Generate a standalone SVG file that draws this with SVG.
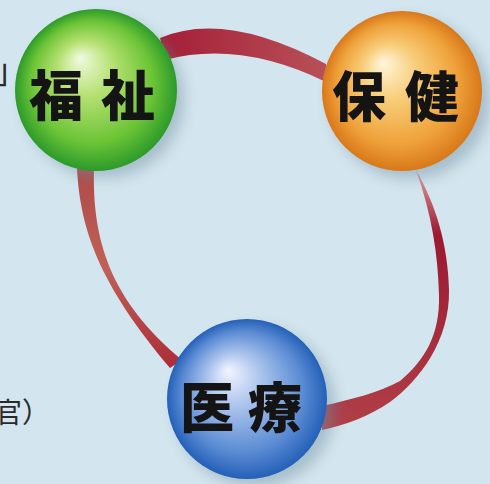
<svg xmlns="http://www.w3.org/2000/svg" width="490" height="484" viewBox="0 0 490 484">
<defs>
<style>
.lbl{font-family:"Noto Sans CJK JP","Noto Sans CJK SC",sans-serif;font-weight:900;font-size:54px;fill:#141414;text-anchor:middle;dominant-baseline:central}
.side{font-family:"Noto Sans CJK JP","Noto Sans CJK SC",sans-serif;font-weight:400;font-size:28px;fill:#2a2a2a}
.rib{stroke:none}
.shadow{fill:#6f8ea0;opacity:0.45;filter:url(#blur)}
</style>
<filter id="blur" x="-30%" y="-30%" width="160%" height="160%"><feGaussianBlur stdDeviation="7"/></filter>
<radialGradient id="gGreen" cx="0.5" cy="0.5" r="0.5" fx="0.4" fy="0.3">
<stop offset="0" stop-color="#f2fae0"/>
<stop offset="0.35" stop-color="#b4e070"/>
<stop offset="0.75" stop-color="#6cc436"/>
<stop offset="1" stop-color="#2c9a2a"/>
</radialGradient>
<radialGradient id="gOrange" cx="0.5" cy="0.5" r="0.5" fx="0.38" fy="0.32">
<stop offset="0" stop-color="#fff6dc"/>
<stop offset="0.35" stop-color="#f8cc78"/>
<stop offset="0.75" stop-color="#efa23a"/>
<stop offset="1" stop-color="#d8781a"/>
</radialGradient>
<radialGradient id="gBlue" cx="0.5" cy="0.5" r="0.5" fx="0.38" fy="0.32">
<stop offset="0" stop-color="#f2f5ff"/>
<stop offset="0.35" stop-color="#a8c2ec"/>
<stop offset="0.75" stop-color="#5c8cd4"/>
<stop offset="1" stop-color="#2460b8"/>
</radialGradient>
<linearGradient id="rTop" x1="0" y1="0" x2="1" y2="0">
<stop offset="0" stop-color="#a41e36"/>
<stop offset="1" stop-color="#b85058"/>
</linearGradient>
<linearGradient id="rRight" x1="0" y1="0" x2="0" y2="1">
<stop offset="0" stop-color="#e0a0a0"/>
<stop offset="0.25" stop-color="#9c1830"/>
<stop offset="1" stop-color="#b04048"/>
</linearGradient>
<linearGradient id="rLeft" x1="0" y1="0" x2="0" y2="1">
<stop offset="0" stop-color="#b04a48"/>
<stop offset="0.5" stop-color="#c06058"/>
<stop offset="1" stop-color="#ac2c38"/>
</linearGradient>
</defs>
<rect width="490" height="484" fill="#d3e5ee"/>
<g id="connectors">
<path class="rib" fill="url(#rTop)" d="M160,38 Q225,10 326,64 L326,82 Q240,40 165,60 Z"/>
<path class="rib" fill="url(#rRight)" d="M416,170 C436,205 448,245 449,290 C450,340 420,380 390,402 C370,416 345,425 322,430 L322,406 C350,400 380,392 400,381 C425,360 440,335 439,295 C438,255 432,215 416,170 Z"/>
<path class="rib" fill="url(#rLeft)" d="M77,168 C80,230 100,285 170,368 L182,360 C110,300 92,240 94,168 Z"/>
</g>
<g id="shadows">
<circle class="shadow" cx="104" cy="98" r="80"/>
<circle class="shadow" cx="410" cy="99" r="80"/>
<circle class="shadow" cx="255" cy="407" r="80"/>
</g>
<g id="fukushi">
<circle cx="96" cy="90" r="81" fill="url(#gGreen)"/>
<text class="lbl" x="56" y="92">福</text>
<text class="lbl" x="128" y="92">祉</text>
</g>
<g id="hoken">
<circle cx="402" cy="91" r="80" fill="url(#gOrange)"/>
<text class="lbl" x="359" y="93">保</text>
<text class="lbl" x="432" y="93">健</text>
</g>
<g id="iryo">
<circle cx="247" cy="399" r="80" fill="url(#gBlue)"/>
<text class="lbl" x="207" y="404">医</text>
<text class="lbl" x="275" y="404">療</text>
</g>
<g id="side-text">
<text class="side" x="-6" y="83" style="font-size:34px">」</text>
<text class="side" x="-6" y="423">官）</text>
</g>
</svg>
